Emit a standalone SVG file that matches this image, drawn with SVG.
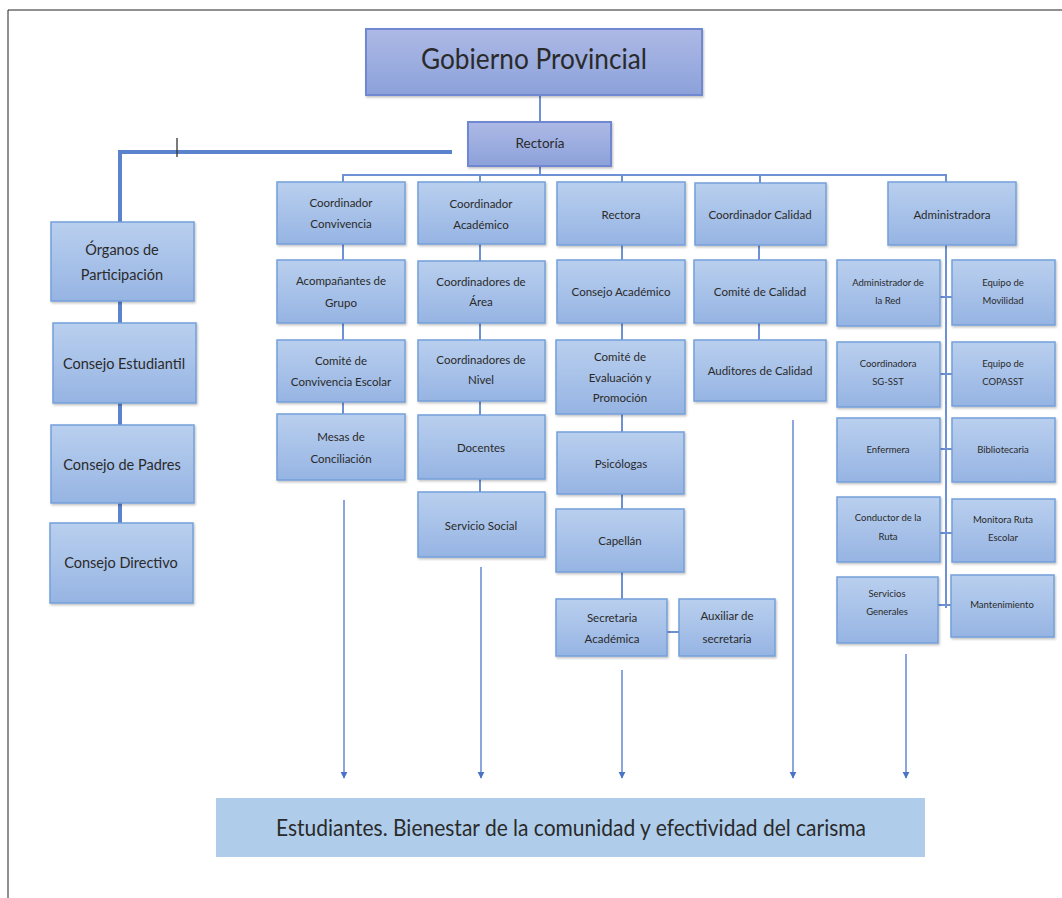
<svg xmlns="http://www.w3.org/2000/svg" width="1062" height="898" viewBox="0 0 1062 898">
<defs>
<linearGradient id="gBox" x1="0" y1="0" x2="0" y2="1">
<stop offset="0" stop-color="#b9cfee"/>
<stop offset="1" stop-color="#96b4e3"/>
</linearGradient>
<linearGradient id="gTop" x1="0" y1="0" x2="0" y2="1">
<stop offset="0" stop-color="#adb9e5"/>
<stop offset="1" stop-color="#8ca1da"/>
</linearGradient>
<filter id="sh" x="-10%" y="-10%" width="130%" height="130%">
<feDropShadow dx="1" dy="1.5" stdDeviation="1" flood-color="#000" flood-opacity="0.25"/>
</filter>
<marker id="arr" viewBox="0 0 10 10" refX="9" refY="5" markerWidth="7" markerHeight="9" orient="auto" markerUnits="userSpaceOnUse">
<path d="M0,0 L10,5 L0,10 Z" fill="#4a74c6"/>
</marker>
<style>
.box{fill:url(#gBox);stroke:#74a0da;stroke-width:1.5;filter:url(#sh)}
.top{fill:url(#gTop);stroke:#6f88d2;stroke-width:2;filter:url(#sh)}
.t{font-family:Lato,"Open Sans","Liberation Sans",sans-serif;fill:#2a2a2a;text-anchor:middle}
.s12{font-size:11.5px}
.s10{font-size:9.5px}
.s15{font-size:14.5px}
.ln{stroke:#6e90d4;stroke-width:2;fill:none}
.ar{stroke:#6e90d4;stroke-width:1.6;fill:none;marker-end:url(#arr)}
</style>
</defs>
<rect width="1062" height="898" fill="#fff"/>
<path d="M8,898 V10 H1062" fill="none" stroke="#222" stroke-width="1"/>

<g id="connectors">
<line class="ln" x1="540" y1="95" x2="540" y2="121"/>
<line class="ln" x1="540" y1="166" x2="540" y2="175"/>
<path class="ln" d="M343,182 V175 H946 V182"/>
<line class="ln" x1="480" y1="175" x2="480" y2="182"/>
<line class="ln" x1="622" y1="175" x2="622" y2="182"/>
<line class="ln" x1="760" y1="175" x2="760" y2="183"/>
<path d="M452,152 H120 V222" fill="none" stroke="#5b82cc" stroke-width="4"/>
<line x1="177" y1="138" x2="177" y2="157" stroke="#333" stroke-width="1.3"/>
<line x1="120" y1="301" x2="120" y2="523" stroke="#5b82cc" stroke-width="4"/>
<line class="ln" x1="343" y1="244" x2="343" y2="414"/>
<line class="ln" x1="480" y1="244" x2="480" y2="492"/>
<line class="ln" x1="622" y1="245" x2="622" y2="599"/>
<line class="ln" x1="667" y1="632" x2="679" y2="632"/>
<line class="ln" x1="759" y1="245" x2="759" y2="340"/>
<line class="ln" x1="946" y1="245" x2="946" y2="608"/>
<line class="ln" x1="940" y1="297" x2="952" y2="297"/>
<line class="ln" x1="940" y1="374" x2="952" y2="374"/>
<line class="ln" x1="940" y1="449" x2="952" y2="449"/>
<line class="ln" x1="940" y1="533" x2="952" y2="533"/>
<line class="ln" x1="938" y1="605" x2="952" y2="605"/>
<line class="ar" x1="344" y1="500" x2="344" y2="778"/>
<line class="ar" x1="481" y1="567" x2="481" y2="778"/>
<line class="ar" x1="622" y1="670" x2="622" y2="778"/>
<line class="ar" x1="793" y1="420" x2="793" y2="778"/>
<line class="ar" x1="906" y1="654" x2="906" y2="778"/>
</g>

<g id="gobierno"><rect class="top" x="366" y="29" width="336" height="66"/><text class="t" x="534" y="69" font-size="29" textLength="226" lengthAdjust="spacingAndGlyphs">Gobierno Provincial</text></g>
<g id="rectoria"><rect class="top" x="468" y="122" width="143" height="44"/><text class="t" x="540" y="148" font-size="13.5">Rectoría</text></g>

<g id="organos"><rect class="box" x="51" y="222" width="143" height="79"/><text class="t s15" x="122" y="255">Órganos de</text><text class="t s15" x="122" y="280">Participación</text></g>
<g id="consejo-estudiantil"><rect class="box" x="53" y="323" width="143" height="80"/><text class="t s15" x="124" y="369">Consejo Estudiantil</text></g>
<g id="consejo-padres"><rect class="box" x="51" y="425" width="143" height="78"/><text class="t s15" x="122" y="470">Consejo de Padres</text></g>
<g id="consejo-directivo"><rect class="box" x="50" y="523" width="143" height="80"/><text class="t s15" x="121" y="568">Consejo Directivo</text></g>

<g id="coord-convivencia"><rect class="box" x="277" y="182" width="128" height="62"/><text class="t s12" x="341" y="207">Coordinador</text><text class="t s12" x="341" y="228">Convivencia</text></g>
<g id="acompanantes"><rect class="box" x="277" y="260" width="128" height="63"/><text class="t s12" x="341" y="285">Acompañantes de</text><text class="t s12" x="341" y="307">Grupo</text></g>
<g id="comite-convivencia"><rect class="box" x="277" y="340" width="128" height="62"/><text class="t s12" x="341" y="365">Comité de</text><text class="t s12" x="341" y="386">Convivencia Escolar</text></g>
<g id="mesas"><rect class="box" x="277" y="414" width="128" height="66"/><text class="t s12" x="341" y="441">Mesas de</text><text class="t s12" x="341" y="463">Conciliación</text></g>

<g id="coord-academico"><rect class="box" x="418" y="182" width="127" height="62"/><text class="t s12" x="481" y="208">Coordinador</text><text class="t s12" x="481" y="229">Académico</text></g>
<g id="coord-area"><rect class="box" x="418" y="261" width="127" height="62"/><text class="t s12" x="481" y="286">Coordinadores de</text><text class="t s12" x="481" y="306">Área</text></g>
<g id="coord-nivel"><rect class="box" x="418" y="340" width="127" height="61"/><text class="t s12" x="481" y="364">Coordinadores de</text><text class="t s12" x="481" y="384">Nivel</text></g>
<g id="docentes"><rect class="box" x="418" y="415" width="127" height="64"/><text class="t s12" x="481" y="452">Docentes</text></g>
<g id="servicio-social"><rect class="box" x="418" y="492" width="127" height="65"/><text class="t s12" x="481" y="530">Servicio Social</text></g>

<g id="rectora"><rect class="box" x="557" y="182" width="128" height="63"/><text class="t s12" x="621" y="219">Rectora</text></g>
<g id="consejo-academico"><rect class="box" x="557" y="260" width="128" height="63"/><text class="t s12" x="621" y="296">Consejo Académico</text></g>
<g id="comite-evaluacion"><rect class="box" x="556" y="340" width="129" height="74"/><text class="t s12" x="620" y="361">Comité de</text><text class="t s12" x="620" y="382">Evaluación y</text><text class="t s12" x="620" y="402">Promoción</text></g>
<g id="psicologas"><rect class="box" x="557" y="432" width="127" height="62"/><text class="t s12" x="621" y="468">Psicólogas</text></g>
<g id="capellan"><rect class="box" x="556" y="509" width="128" height="63"/><text class="t s12" x="620" y="545">Capellán</text></g>
<g id="secretaria"><rect class="box" x="556" y="599" width="111" height="57"/><text class="t s12" x="612" y="622">Secretaria</text><text class="t s12" x="612" y="643">Académica</text></g>
<g id="auxiliar"><rect class="box" x="679" y="599" width="96" height="57"/><text class="t s12" x="727" y="620">Auxiliar de</text><text class="t s12" x="727" y="643">secretaria</text></g>

<g id="coord-calidad"><rect class="box" x="695" y="183" width="131" height="62"/><text class="t s12" x="760" y="219">Coordinador Calidad</text></g>
<g id="comite-calidad"><rect class="box" x="694" y="260" width="132" height="63"/><text class="t s12" x="760" y="296">Comité de Calidad</text></g>
<g id="auditores"><rect class="box" x="694" y="340" width="132" height="61"/><text class="t s12" x="760" y="375">Auditores de Calidad</text></g>

<g id="administradora"><rect class="box" x="888" y="182" width="128" height="63"/><text class="t s12" x="952" y="219">Administradora</text></g>
<g id="admin-red"><rect class="box" x="837" y="260" width="103" height="66"/><text class="t s10" x="888" y="286">Administrador de</text><text class="t s10" x="888" y="304">la Red</text></g>
<g id="equipo-movilidad"><rect class="box" x="952" y="260" width="103" height="65"/><text class="t s10" x="1003" y="286">Equipo de</text><text class="t s10" x="1003" y="304">Movilidad</text></g>
<g id="coord-sgsst"><rect class="box" x="837" y="342" width="103" height="65"/><text class="t s10" x="888" y="367">Coordinadora</text><text class="t s10" x="888" y="385">SG-SST</text></g>
<g id="equipo-copasst"><rect class="box" x="952" y="342" width="103" height="64"/><text class="t s10" x="1003" y="367">Equipo de</text><text class="t s10" x="1003" y="385">COPASST</text></g>
<g id="enfermera"><rect class="box" x="837" y="418" width="103" height="64"/><text class="t s10" x="888" y="453">Enfermera</text></g>
<g id="bibliotecaria"><rect class="box" x="952" y="418" width="103" height="64"/><text class="t s10" x="1003" y="453">Bibliotecaria</text></g>
<g id="conductor"><rect class="box" x="837" y="497" width="103" height="65"/><text class="t s10" x="888" y="521">Conductor de la</text><text class="t s10" x="888" y="540">Ruta</text></g>
<g id="monitora"><rect class="box" x="952" y="499" width="103" height="63"/><text class="t s10" x="1003" y="523">Monitora Ruta</text><text class="t s10" x="1003" y="541">Escolar</text></g>
<g id="servicios-generales"><rect class="box" x="837" y="577" width="101" height="66"/><text class="t s10" x="887" y="597">Servicios</text><text class="t s10" x="887" y="615">Generales</text></g>
<g id="mantenimiento"><rect class="box" x="951" y="575" width="103" height="62"/><text class="t s10" x="1002" y="608">Mantenimiento</text></g>

<g id="estudiantes"><rect x="216" y="798" width="709" height="59" fill="#afcdea"/><text class="t" x="571" y="836" font-size="23" textLength="590" lengthAdjust="spacingAndGlyphs">Estudiantes. Bienestar de la comunidad y efectividad del carisma</text></g>
</svg>
